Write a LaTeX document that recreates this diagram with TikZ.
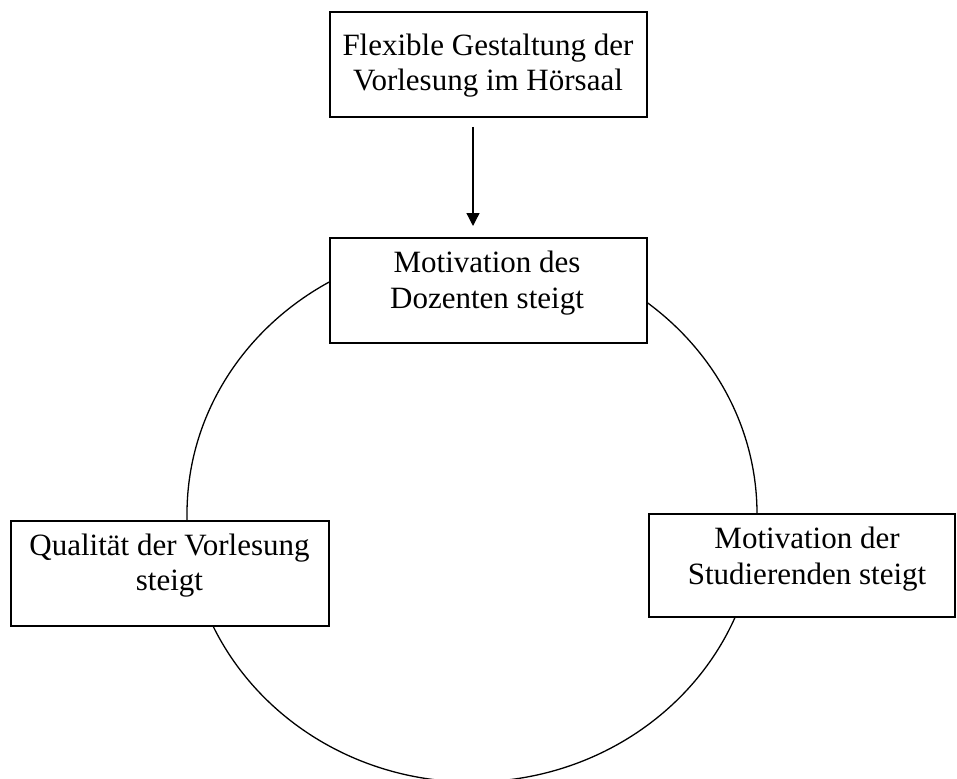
\documentclass[tikz,border=0pt]{standalone}
\usepackage{fontspec}
\setmainfont{Liberation Serif}
\usetikzlibrary{arrows.meta}
\tikzset{
  box/.style={draw, fill=white, line width=2pt, inner sep=0pt, outer sep=0pt},
  txt/.style={anchor=base, inner sep=0pt, font=\fontsize{31}{36}\selectfont},
  ring/.style={line width=1.3pt},
  arr/.style={line width=1.3pt, -{Triangle[width=13pt,length=13pt]}}
}
\begin{document}
\begin{tikzpicture}[x=1pt,y=-1pt]
\clip (0,0) rectangle (957,778);
\fill[white] (0,0) rectangle (957,778);
% cycle
\draw[ring] (472,514) ellipse [x radius=285pt, y radius=268pt];
% boxes
\node[box, minimum width=317pt, minimum height=105pt] (top) at (488.5,64.5) {};
\node[box, minimum width=317pt, minimum height=105pt] (mid) at (488.5,290.5) {};
\node[box, minimum width=318pt, minimum height=105pt] (left) at (170,573.5) {};
\node[box, minimum width=306pt, minimum height=103pt] (right) at (802,565.5) {};
% texts
\node[txt] (top1) at (488,56) {Flexible Gestaltung der};
\node[txt] (top2) at (488,91) {Vorlesung im Hörsaal};
\node[txt] (mid1) at (487,272) {Motivation des};
\node[txt] (mid2) at (487,308) {Dozenten steigt};
\node[txt] (left1) at (169.5,555) {Qualität der Vorlesung};
\node[txt] (left2) at (169.5,590) {steigt};
\node[txt] (right1) at (807,548) {Motivation der};
\node[txt] (right2) at (807,584.5) {Studierenden steigt};
% arrow
\draw[arr] ([xshift=-15.5pt,yshift=-10pt]top.south) -- ([xshift=-15.5pt,yshift=12pt]mid.north);
\end{tikzpicture}
\end{document}
